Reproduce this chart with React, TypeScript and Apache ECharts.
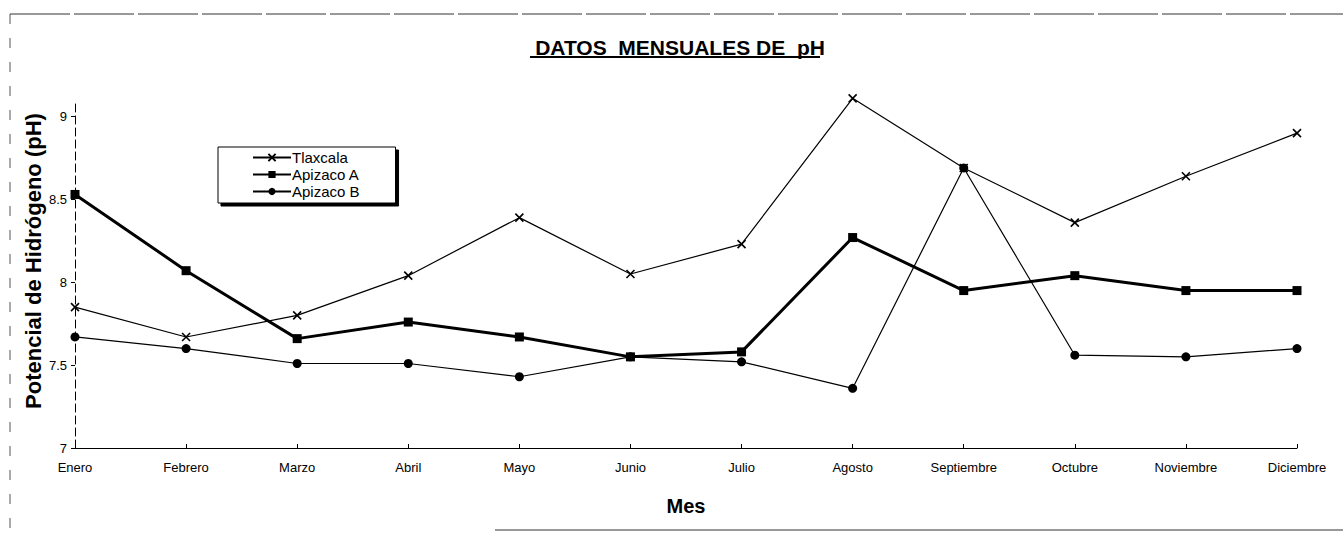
import React, { useEffect, useRef } from "react";
import * as echarts from "echarts";

const months = ["Enero", "Febrero", "Marzo", "Abril", "Mayo", "Junio", "Julio", "Agosto", "Septiembre", "Octubre", "Noviembre", "Diciembre"];
const tlaxcala = [7.85, 7.67, 7.8, 8.04, 8.39, 8.05, 8.23, 9.11, 8.69, 8.36, 8.64, 8.9];
const apizacoA = [8.53, 8.07, 7.66, 7.76, 7.67, 7.55, 7.58, 8.27, 7.95, 8.04, 7.95, 7.95];
const apizacoB = [7.67, 7.6, 7.51, 7.51, 7.43, 7.55, 7.52, 7.36, 8.69, 7.56, 7.55, 7.6];
const yTicks = [7, 7.5, 8, 8.5, 9];

const FONT = "'Liberation Sans', Arial, sans-serif";
const CROSS = "path://M0,0L10,10M10,0L0,10";

export default function App() {
  const ref = useRef<HTMLDivElement>(null);
  useEffect(() => {
    if (!ref.current) return;
    const chart = echarts.init(ref.current, null, { renderer: "svg" });
    chart.setOption({
      animation: false,
      backgroundColor: "#fff",
      textStyle: { fontFamily: FONT, color: "#000" },
      title: {
        text: "DATOS  MENSUALES DE  pH",
        left: 675,
        top: 32,
        textAlign: "center",
        textStyle: { fontFamily: FONT, fontSize: 21, fontWeight: "bold", color: "#000" },
      },
      legend: {
        orient: "vertical",
        left: 218,
        top: 147,
        itemWidth: 38,
        itemHeight: 9,
        itemGap: 2,
        padding: [3, 36, 4, 34],
        borderColor: "#000",
        borderWidth: 1,
        backgroundColor: "#fff",
        shadowColor: "#000",
        shadowOffsetX: 3,
        shadowOffsetY: 3,
        shadowBlur: 0,
        textStyle: { fontFamily: FONT, fontSize: 15, color: "#000", padding: [0, 0, 0, -4] },
        data: ["Tlaxcala", "Apizaco A", "Apizaco B"],
      },
      grid: { left: 75, right: 46, top: 100, bottom: 85, containLabel: false },
      xAxis: {
        type: "category",
        data: months,
        boundaryGap: false,
        name: "Mes",
        nameLocation: "middle",
        nameGap: 48,
        nameTextStyle: { fontFamily: FONT, fontSize: 20, fontWeight: "bold", color: "#000" },
        axisLine: { lineStyle: { color: "#000", width: 1 } },
        axisTick: { show: true, length: 4, inside: true, lineStyle: { color: "#000" } },
        axisLabel: { color: "#000", fontSize: 13, fontFamily: FONT, margin: 13, interval: 0 },
        splitLine: { show: false },
      },
      yAxis: {
        type: "value",
        min: 7,
        max: 9.1,
        interval: 0.5,
        axisLine: { show: true, lineStyle: { color: "#000", width: 1, type: [8, 4] } },
        axisTick: { show: true, length: 4, lineStyle: { color: "#000" }, customValues: yTicks },
        axisLabel: { color: "#000", fontSize: 13, fontFamily: FONT, margin: 8, customValues: yTicks },
        splitLine: { show: false },
      },
      series: [
        {
          name: "Tlaxcala",
          type: "line",
          data: tlaxcala,
          clip: false,
          symbol: CROSS,
          symbolSize: 8,
          lineStyle: { color: "#000", width: 1.2 },
          itemStyle: { color: "#000", borderColor: "#000", borderWidth: 1.6 },
          z: 3,
        },
        {
          name: "Apizaco A",
          type: "line",
          data: apizacoA,
          clip: false,
          symbol: "rect",
          symbolSize: 9,
          lineStyle: { color: "#000", width: 3 },
          itemStyle: { color: "#000" },
          z: 2,
        },
        {
          name: "Apizaco B",
          type: "line",
          data: apizacoB,
          clip: false,
          symbol: "circle",
          symbolSize: 9,
          lineStyle: { color: "#000", width: 1.2 },
          itemStyle: { color: "#000" },
          z: 2,
        },
      ],
      graphic: [
        {
          type: "text",
          x: 33,
          y: 261,
          rotation: Math.PI / 2,
          style: {
            text: "Potencial de Hidrógeno (pH)",
            fontFamily: FONT,
            fontSize: 22,
            fontWeight: "bold",
            fill: "#000",
            align: "center",
            verticalAlign: "middle",
          },
        },
        { type: "line", shape: { x1: 530, y1: 57, x2: 820, y2: 57 }, style: { stroke: "#000", lineWidth: 2 } },
        { type: "line", shape: { x1: 10, y1: 14, x2: 1343, y2: 14 }, style: { stroke: "#333", lineWidth: 1, lineDash: [60, 4] } },
        { type: "line", shape: { x1: 10, y1: 14, x2: 10, y2: 530 }, style: { stroke: "#555", lineWidth: 1, lineDash: [10, 14] } },
        { type: "line", shape: { x1: 495, y1: 530, x2: 1343, y2: 530 }, style: { stroke: "#333", lineWidth: 1 } },
      ],
    });
    return () => chart.dispose();
  }, []);
  return <div ref={ref} style={{ width: 1343, height: 533, position: "absolute", left: 0, top: 0 }} />;
}
